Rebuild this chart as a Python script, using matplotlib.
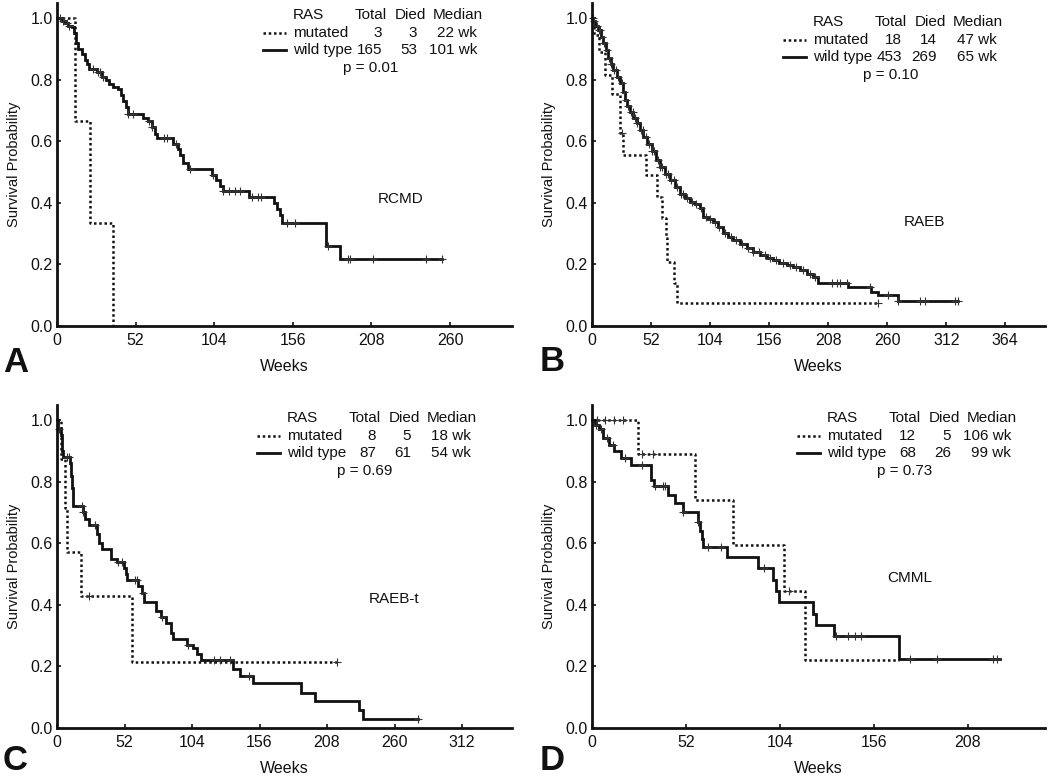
import numpy as np
import matplotlib.pyplot as plt
from matplotlib.lines import Line2D

plt.rcParams['font.family'] = ['Liberation Sans', 'DejaVu Sans']

# A - RCMD
rcmd_wt_t = [0, 3.1, 5.3, 7.5, 9.7, 11.2, 12.6, 14.1, 16.3, 18.5, 20.1, 21.2, 26.7, 29.5,
             32.4, 34.6, 37.3, 40.6, 42.1, 43.4, 45.6, 47.2, 57.1, 60.4, 62.6, 64.8, 66.4,
             76.5, 80.3, 81.4, 83.1, 86.9, 102.3, 105.2, 107.8, 109.6, 127.2, 143.5, 145.7,
             147.5, 148.6, 178, 187.2, 254.5]
rcmd_wt_s = [1.0, 0.99, 0.985, 0.975, 0.97, 0.95, 0.92, 0.90, 0.883, 0.865, 0.85, 0.835,
             0.825, 0.81, 0.80, 0.785, 0.775, 0.77, 0.75, 0.73, 0.71, 0.69, 0.675, 0.665,
             0.645, 0.625, 0.61, 0.59, 0.575, 0.555, 0.53, 0.51, 0.49, 0.475, 0.455, 0.44,
             0.42, 0.40, 0.38, 0.36, 0.335, 0.26, 0.217, 0.217]
rcmd_wt_cens = [2, 4.2, 6.4, 8.2, 24, 27, 28.4, 30.6, 47.2, 50, 61, 62.6, 70.8, 72.5, 79,
                88, 103, 109.6, 114, 117.6, 121, 128.8, 133, 135, 152, 157.5, 179.5, 192.7,
                193.8, 209, 244, 254.5]
rcmd_mut_t = [0, 12, 22, 37]
rcmd_mut_s = [1.0, 0.667, 0.333, 0.0]
rcmd_mut_cens = []

# B - RAEB
raeb_wt_t = [0, 1.2, 3, 5.6, 8, 10, 12, 14.4, 16.5, 18.8, 22, 24.7, 27, 29.1, 31, 33.5,
             36.5, 39.4, 42.3, 45.2, 48.5, 52.6, 56, 59.9, 64, 68.7, 73, 77.5, 82, 86.3,
             91, 95.1, 97.8, 102, 106.6, 111, 115.4, 120, 124.2, 130, 136.3, 142, 148, 154,
             159.5, 165, 171.5, 177, 183.2, 189, 194.7, 199, 225.5, 246, 252, 269.6, 322.5]
raeb_wt_s = [1.0, 0.99, 0.975, 0.96, 0.94, 0.918, 0.895, 0.869, 0.85, 0.831, 0.81, 0.788,
             0.76, 0.734, 0.715, 0.696, 0.677, 0.658, 0.636, 0.615, 0.59, 0.568, 0.54,
             0.517, 0.495, 0.474, 0.452, 0.43, 0.415, 0.404, 0.395, 0.383, 0.355, 0.347,
             0.339, 0.32, 0.302, 0.29, 0.279, 0.265, 0.252, 0.24, 0.23, 0.222, 0.214,
             0.206, 0.198, 0.19, 0.182, 0.17, 0.16, 0.139, 0.128, 0.111, 0.10, 0.081, 0.081]
raeb_wt_cens = [1, 2, 4, 6, 7, 9, 11, 13, 15, 17, 19, 21, 23, 26, 28, 30, 32, 34, 36, 38,
                40, 43, 45, 48, 50, 53, 55, 58, 60, 62, 65, 67, 70, 72, 75, 78, 80, 84, 88,
                92, 96, 100, 104, 108, 112, 117, 122, 127, 132, 137, 142, 147, 152, 157, 162,
                168, 174, 180, 186, 192, 196, 211, 215.6, 218.5, 224.4, 245, 260.8, 269.6,
                289, 293.4, 320, 322.5]
raeb_mut_t = [0, 2, 6, 11.5, 17.4, 25, 27, 47.6, 57, 61.4, 65.2, 66, 72.5, 75.2, 252]
raeb_mut_s = [1.0, 0.944, 0.889, 0.815, 0.755, 0.626, 0.555, 0.49, 0.42, 0.35, 0.286,
              0.209, 0.139, 0.074, 0.074]
raeb_mut_cens = [26, 252]

# C - RAEB-t
raebt_wt_t = [0, 1.0, 2.8, 3.6, 4.9, 10.0, 10.8, 11.3, 12.1, 19.8, 21.6, 24.9, 31.1, 32.6,
              34.4, 41.4, 46.0, 51.7, 53.2, 54.2, 62.7, 65.3, 67.1, 76.1, 79.9, 83.8, 87.7,
              89.7, 100, 105.1, 107.7, 110.8, 135.2, 141.1, 150.6, 187.9, 199, 232.4, 235.5,
              278.1]
raebt_wt_s = [1.0, 0.97, 0.95, 0.90, 0.88, 0.86, 0.82, 0.78, 0.722, 0.70, 0.68, 0.66, 0.63,
              0.60, 0.58, 0.55, 0.54, 0.52, 0.50, 0.48, 0.46, 0.44, 0.41, 0.38, 0.36, 0.34,
              0.31, 0.29, 0.27, 0.26, 0.24, 0.22, 0.19, 0.17, 0.145, 0.115, 0.087, 0.058,
              0.029, 0.029]
raebt_wt_cens = [1.5, 7.5, 9.3, 19, 20.3, 29.3, 47.3, 49.9, 60.2, 61.4, 66.6, 80.7, 101,
                 120.6, 125.7, 133.4, 147.6, 278.1]
raebt_mut_t = [0, 3, 6, 7.5, 18.3, 57.6, 215.7]
raebt_mut_s = [1.0, 0.875, 0.714, 0.571, 0.429, 0.214, 0.214]
raebt_mut_cens = [25, 215.7]

# D - CMML
cmml_wt_t = [0, 1.8, 4.0, 5.9, 9.2, 11.9, 16.1, 21.5, 32.7, 34.5, 41.8, 45.9, 50.3, 58.7,
             59.6, 60.6, 61.5, 74.7, 92.1, 100, 101.8, 103.7, 122, 123.9, 133.6, 170.1, 225.7]
cmml_wt_s = [1.0, 0.985, 0.97, 0.943, 0.92, 0.90, 0.878, 0.855, 0.805, 0.785, 0.757, 0.73,
             0.70, 0.67, 0.64, 0.615, 0.587, 0.555, 0.52, 0.48, 0.445, 0.41, 0.37, 0.335,
             0.30, 0.225, 0.225]
cmml_wt_cens = [2.2, 5.1, 8.3, 11.4, 18.3, 27.5, 34.9, 39.4, 40.4, 50.5, 58.7, 63.9, 71.6,
                95.4, 134.9, 141.7, 145.3, 149, 176.1, 190.8, 222, 224.2]
cmml_mut_t = [0, 25.7, 56.9, 78, 106, 118, 170]
cmml_mut_s = [1.0, 0.889, 0.741, 0.593, 0.444, 0.222, 0.222]
cmml_mut_cens = [2.8, 7.3, 11.9, 17, 27.5, 34, 109]

# legend table values: total, died, median
rcmd_table = [('3', '3', '22 wk'), ('165', '53', '101 wk')]
raeb_table = [('18', '14', '47 wk'), ('453', '269', '65 wk')]
raebt_table = [('8', '5', '18 wk'), ('87', '61', '54 wk')]
cmml_table = [('12', '5', '106 wk'), ('68', '26', '99 wk')]
p_values = ['p = 0.01', 'p = 0.10', 'p = 0.69', 'p = 0.73']
subtypes = ['RCMD', 'RAEB', 'RAEB-t', 'CMML']
letters = ['A', 'B', 'C', 'D']

W, H = 1050, 776
fig = plt.figure(figsize=(W / 100, H / 100), dpi=100)

panels = [
    dict(rect=[57, 326, 455], xmax=301, xticks=[0, 52, 104, 156, 208, 260],
         wt=(rcmd_wt_t, rcmd_wt_s, rcmd_wt_cens), mut=(rcmd_mut_t, rcmd_mut_s, rcmd_mut_cens),
         table=rcmd_table, anchor=(293, 15), label_pos=(227, 0.414), letter=(3, 372)),
    dict(rect=[592, 326, 453], xmax=399, xticks=[0, 52, 104, 156, 208, 260, 312, 364],
         wt=(raeb_wt_t, raeb_wt_s, raeb_wt_cens), mut=(raeb_mut_t, raeb_mut_s, raeb_mut_cens),
         table=raeb_table, anchor=(813, 22), label_pos=(293, 0.338), letter=(540, 371)),
    dict(rect=[57, 728, 455], xmax=350.5, xticks=[0, 52, 104, 156, 208, 260, 312],
         wt=(raebt_wt_t, raebt_wt_s, raebt_wt_cens), mut=(raebt_mut_t, raebt_mut_s, raebt_mut_cens),
         table=raebt_table, anchor=(287, 418), label_pos=(259.6, 0.419), letter=(3, 770)),
    dict(rect=[592, 728, 453], xmax=250.6, xticks=[0, 52, 104, 156, 208],
         wt=(cmml_wt_t, cmml_wt_s, cmml_wt_cens), mut=(cmml_mut_t, cmml_mut_s, cmml_mut_cens),
         table=cmml_table, anchor=(827, 418), label_pos=(176, 0.487), letter=(540, 770)),
]

ink = '#111111'
ax_h = 323
solid_lw = 2.0
dot_lw = 1.8


def draw_curve(ax, t, s, cens, ls):
    t = np.asarray(t, float)
    s = np.asarray(s, float)
    ax.step(t, s, where='post', color=ink, lw=solid_lw if ls == '-' else dot_lw,
            linestyle=ls, solid_joinstyle='miter', clip_on=False)
    if len(cens):
        c = np.asarray(cens, float)
        idx = np.searchsorted(t, c, side='right') - 1
        ax.plot(c, s[idx], '+', color='#333333', ms=5.5, mew=0.8, clip_on=False)


def fx(px):
    return px / W


def fy(py):
    return 1 - py / H


dotted = (0, (1, 1.1))

for i, p in enumerate(panels):
    left, bottom, width = p['rect']
    ax = fig.add_axes([fx(left), fy(bottom), width / W, ax_h / H])
    ax.set_xlim(0, p['xmax'])
    ax.set_ylim(0, 1.049)
    for sp in ['top', 'right']:
        ax.spines[sp].set_visible(False)
    for sp in ['left', 'bottom']:
        ax.spines[sp].set_linewidth(2.0)
        ax.spines[sp].set_color(ink)
    ax.set_xticks(p['xticks'])
    ax.set_yticks([0, 0.2, 0.4, 0.6, 0.8, 1.0])
    ax.set_yticklabels(['0.0', '0.2', '0.4', '0.6', '0.8', '1.0'])
    ax.tick_params(direction='in', length=3, width=1.2, labelsize=11.5, colors=ink)
    ax.tick_params(axis='x', pad=5)
    ax.tick_params(axis='y', pad=3)
    ax.set_xlabel('Weeks', fontsize=11.5, labelpad=8, color=ink)
    ax.set_ylabel('Survival Probability', fontsize=10.5, labelpad=7, color=ink)

    draw_curve(ax, *p['mut'], dotted)
    draw_curve(ax, *p['wt'], '-')

    ax.text(p['label_pos'][0], p['label_pos'][1], subtypes[i], ha='center', va='center',
            fontsize=11, color=ink)

    # legend table
    x0, y0 = p['anchor']
    dy = 17.7
    fs = 11
    fig.text(fx(x0), fy(y0), 'RAS', ha='left', va='center', fontsize=fs, color=ink)
    fig.text(fx(x0 + 94), fy(y0), 'Total', ha='right', va='center', fontsize=fs, color=ink)
    fig.text(fx(x0 + 133), fy(y0), 'Died', ha='right', va='center', fontsize=fs, color=ink)
    fig.text(fx(x0 + 190), fy(y0), 'Median', ha='right', va='center', fontsize=fs, color=ink)
    for r, (name, ls) in enumerate([('mutated', dotted), ('wild type', '-')]):
        yy = y0 + dy * (r + 1)
        fig.add_artist(Line2D([fx(x0 - 30), fx(x0 - 7)], [fy(yy), fy(yy)], color=ink,
                              lw=solid_lw if ls == '-' else dot_lw, linestyle=ls,
                              transform=fig.transFigure))
        fig.text(fx(x0), fy(yy), name, ha='left', va='center', fontsize=fs, color=ink)
        tot, died, med = p['table'][r]
        fig.text(fx(x0 + 89), fy(yy), tot, ha='right', va='center', fontsize=fs, color=ink)
        fig.text(fx(x0 + 124), fy(yy), died, ha='right', va='center', fontsize=fs, color=ink)
        fig.text(fx(x0 + 184), fy(yy), med, ha='right', va='center', fontsize=fs, color=ink)
    fig.text(fx(x0 + 78), fy(y0 + dy * 3), p_values[i], ha='center', va='center',
             fontsize=fs, color=ink)

    lx, ly = p['letter']
    fig.text(fx(lx), fy(ly), letters[i], ha='left', va='baseline', fontsize=25,
             fontweight='bold', color=ink)

fig.savefig('out.png', dpi=100)
